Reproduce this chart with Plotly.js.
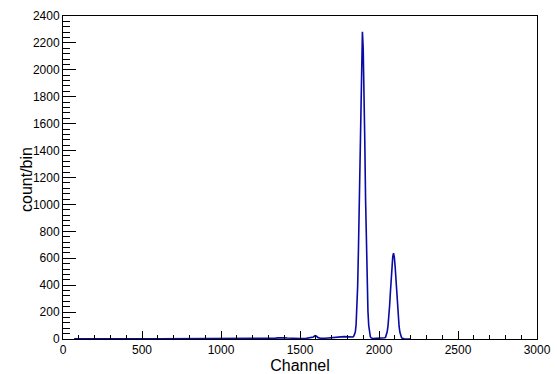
<!DOCTYPE html>
<html>
<head>
<meta charset="utf-8">
<script src="https://cdn.plot.ly/plotly-3.0.1.min.js"></script>
<style>html,body{margin:0;padding:0;background:#fff;}#plot{width:557px;height:374px;}</style>
</head>
<body>
<div id="plot"></div>
<script>
// Channel positions (x) and counts per bin (y)
const channels = [70,100,150,200,250,300,350,400,450,500,550,600,650,700,750,800,850,900,950,1000,
  1050,1100,1150,1200,1250,1300,1340,1360,1380,1400,1420,1440,1460,1500,1540,1570,1585,1595,1605,1615,
  1630,1660,1700,1730,1760,1780,1800,1820,1835,1840,1845,
  1850,1855,1860,1865,1870,1875,1880,1885,1890,1895,1900,1905,1910,1915,1920,1925,1930,1935,1940,1945,1950,
  1955,1965,1980,1995,2010,2020,2027,2032,
  2037,2042,2047,2052,2057,2062,2067,2072,2077,2082,2087,2092,2097,2102,2107,2112,2117,2122,2127,2132,2137,2142,2147,2152,2160,2200];
const counts = [1,2,2,1,2,2,1,2,2,1,2,2,2,1,2,2,2,3,2,3,
  2,3,3,3,3,4,5,8,10,9,7,5,4,4,5,8,15,24,20,10,
  6,6,8,12,16,18,17,14,15,20,32,
  52,105,212,395,670,1050,1470,1875,2170,2283,2160,1880,1475,1040,675,390,208,100,44,18,8,
  5,4,5,6,8,9,7,6,
  9,15,30,56,98,160,245,345,452,545,612,638,608,540,445,340,240,155,95,52,27,13,6,3,1,0];
const xTickVals = [0,500,1000,1500,2000,2500,3000];
const yTickVals = [0,200,400,600,800,1000,1200,1400,1600,1800,2000,2200,2400];

const trace = {
  x: channels, y: counts, type: 'scatter', mode: 'lines',
  line: {color: '#0a0aa6', width: 1.6}, hoverinfo: 'skip'
};
const font = {family: '"Liberation Sans", Arial, Helvetica, sans-serif', color: '#000'};
const layout = {
  width: 557, height: 374,
  margin: {l: 63, r: 20, t: 16, b: 35},
  paper_bgcolor: '#fff', plot_bgcolor: '#fff',
  showlegend: false,
  font: Object.assign({size: 12}, font),
  xaxis: {
    range: [0, 3000], tickvals: xTickVals, ticktext: xTickVals.map(String),
    ticks: 'inside', ticklen: 8, tickwidth: 1, tickcolor: '#000',
    minor: {dtick: 100, ticks: 'inside', ticklen: 4, tickcolor: '#000', showgrid: false},
    showline: true, linecolor: '#000', linewidth: 1, mirror: true,
    showgrid: false, zeroline: false,
    tickfont: Object.assign({size: 12}, font),
    title: {text: 'Channel', font: Object.assign({size: 16}, font), standoff: 0}
  },
  yaxis: {
    range: [0, 2400], tickvals: yTickVals, ticktext: yTickVals.map(String),
    ticks: 'inside', ticklen: 13, tickwidth: 1, tickcolor: '#000',
    minor: {dtick: 40, ticks: 'inside', ticklen: 7, tickcolor: '#000', showgrid: false},
    showline: true, linecolor: '#000', linewidth: 1, mirror: true,
    showgrid: false, zeroline: false,
    tickfont: Object.assign({size: 12}, font)
  },
  annotations: [{
    text: 'count/bin', textangle: -90, showarrow: false,
    xref: 'paper', yref: 'paper', x: (26 - 63) / 474, y: (339 - 180) / 323,
    xanchor: 'center', yanchor: 'middle',
    font: Object.assign({size: 16}, font)
  }]
};
Plotly.newPlot('plot', [trace], layout, {staticPlot: true, displayModeBar: false});
</script>
</body>
</html>
